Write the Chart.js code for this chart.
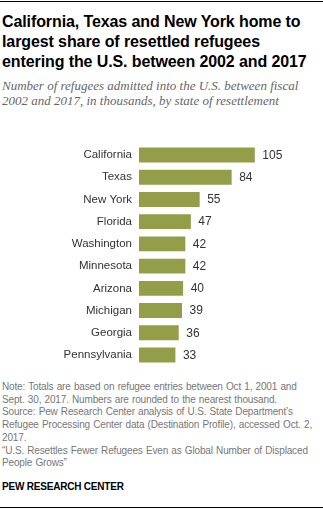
<!DOCTYPE html>
<html>
<head>
<meta charset="utf-8">
<script src="https://cdn.jsdelivr.net/npm/chart.js@4"></script>
<style>
  html, body { margin:0; padding:0; background:#fff; }
  body { width:323px; height:509px; position:relative; overflow:hidden; font-family: Arial, "Liberation Sans", sans-serif; }
  .rule { position:absolute; left:0; width:323px; height:1px; background:#000; }
  #title { position:absolute; left:2px; top:12px; font-weight:bold; font-size:16px; line-height:20px; color:#000; white-space:nowrap; letter-spacing:-0.1px; }
  #subtitle { position:absolute; left:2px; top:78px; font-family:"Liberation Serif", "DejaVu Serif", serif; font-style:italic; font-size:13px; line-height:15px; color:#666; white-space:nowrap; }
  #notes { position:absolute; left:2px; top:381px; font-size:10px; line-height:12.7px; color:#777; white-space:nowrap; letter-spacing:-0.15px; word-spacing:0.6px; }
  #brand { position:absolute; left:2px; top:481px; font-size:10px; font-weight:bold; color:#000; letter-spacing:-0.2px; }
  #wrap { position:absolute; left:0; top:130px; width:323px; height:250px; }
</style>
</head>
<body>
<div class="rule" style="top:1px"></div>
<div id="title">California, Texas and New York home to<br>largest share of resettled refugees<br>entering the U.S. between 2002 and 2017</div>
<div id="subtitle">Number of refugees admitted into the U.S. between fiscal<br>2002 and 2017, in thousands, by state of resettlement</div>
<div id="wrap"><canvas id="c" width="323" height="250"></canvas></div>
<div id="notes">Note: Totals are based on refugee entries between Oct 1, 2001 and<br>Sept. 30, 2017. Numbers are rounded to the nearest thousand.<br>Source: Pew Research Center analysis of U.S. State Department’s<br>Refugee Processing Center data (Destination Profile), accessed Oct. 2,<br>2017.<br>“U.S. Resettles Fewer Refugees Even as Global Number of Displaced<br>People Grows”</div>
<div id="brand">PEW RESEARCH CENTER</div>
<div class="rule" style="top:507px"></div>
<script>
const states = ["California","Texas","New York","Florida","Washington","Minnesota","Arizona","Michigan","Georgia","Pennsylvania"];
const refugees = [105,84,55,47,42,42,40,39,36,33];

const valueLabels = {
  id: 'valueLabels',
  afterDatasetsDraw(chart) {
    const ctx = chart.ctx;
    const meta = chart.getDatasetMeta(0);
    ctx.save();
    ctx.font = '12px Arial, "Liberation Sans", sans-serif';
    ctx.fillStyle = '#333';
    ctx.textAlign = 'left';
    ctx.textBaseline = 'middle';
    meta.data.forEach((bar, i) => {
      ctx.fillText(String(refugees[i]), bar.x + 7.5, bar.y + 0.5);
    });
    ctx.restore();
  }
};

new Chart(document.getElementById('c'), {
  type: 'bar',
  data: {
    labels: states,
    datasets: [{
      data: refugees,
      backgroundColor: '#949D48',
      borderWidth: 0,
      barPercentage: 0.67,
      categoryPercentage: 1.0
    }]
  },
  options: {
    indexAxis: 'y',
    responsive: false,
    animation: false,
    devicePixelRatio: 1,
    layout: { padding: { top: 6.2, bottom: 9.5, left: 0, right: 7.5 } },
    plugins: { legend: { display: false }, tooltip: { enabled: false } },
    scales: {
      x: { display: false, min: 0, max: 160 },
      y: {
        grid: { display: false, drawTicks: false },
        border: { display: false },
        ticks: {
          color: '#333',
          font: { family: 'Arial, "Liberation Sans", sans-serif', size: 11.5 },
          padding: 7
        },
        afterFit(scale) { scale.width = 139; }
      }
    }
  },
  plugins: [valueLabels]
});
</script>
</body>
</html>
